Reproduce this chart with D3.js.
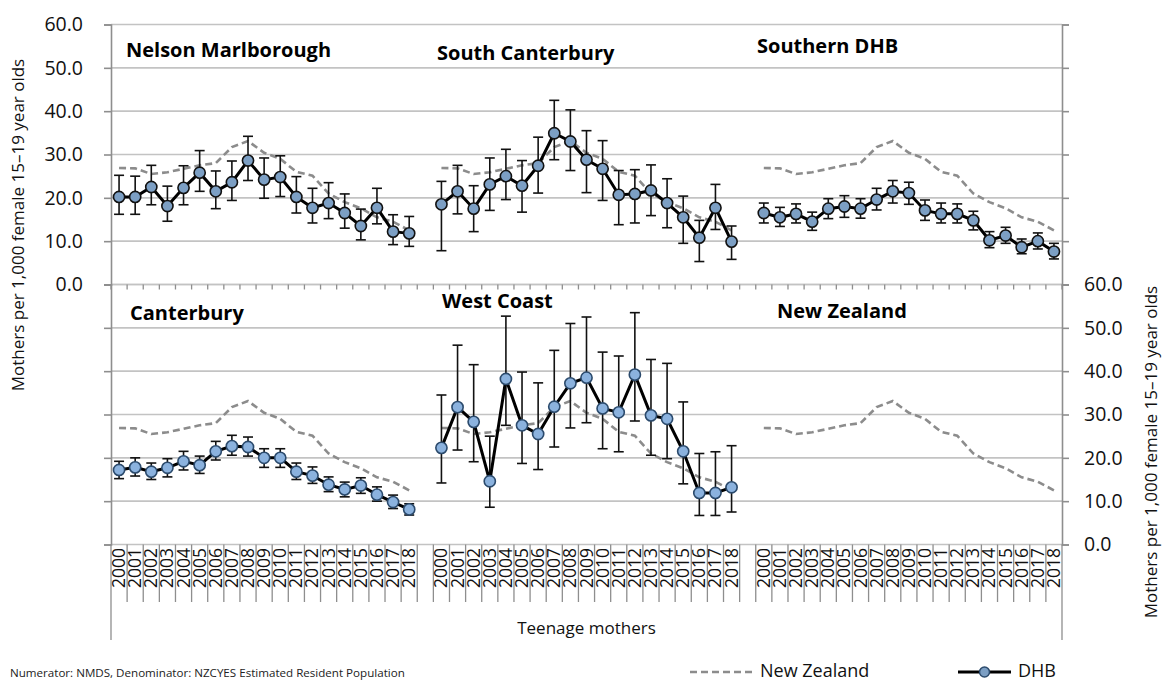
<!DOCTYPE html>
<html>
<head>
<meta charset="utf-8">
<script src="https://cdn.jsdelivr.net/npm/d3@7"></script>
<style>
  html, body { margin: 0; padding: 0; background: #fff; }
  svg { display: block; font-family: "Open Sans", "Noto Sans", sans-serif; }
</style>
</head>
<body>
<svg id="chart" width="1163" height="682"></svg>
<script>
// Teenage mothers per 1,000 female 15–19 year olds, by DHB, 2000–2018
const years = d3.range(2000, 2019).map(String);
const yTicks = [0, 10, 20, 30, 40, 50, 60];

const newZealand = [26.9, 26.8, 25.5, 25.9, 26.7, 27.5, 28.0, 31.7, 33.1, 30.4, 29.0, 26.0, 25.1, 21.0, 19.0, 17.6, 15.5, 14.5, 12.5];

const nelsonRate  = [20.2, 20.2, 22.5, 18.1, 22.3, 25.8, 21.5, 23.6, 28.6, 24.2, 24.8, 20.2, 17.7, 18.8, 16.5, 13.5, 17.7, 12.2, 11.8];
const nelsonUpper = [25.2, 25.0, 27.5, 22.7, 27.4, 30.9, 26.2, 28.5, 34.2, 29.2, 29.7, 24.9, 22.2, 23.5, 20.9, 17.4, 22.2, 16.1, 15.7];
const nelsonLower = [16.2, 16.2, 18.4, 14.6, 18.4, 21.5, 17.5, 19.4, 24.0, 19.9, 20.3, 16.5, 14.2, 15.2, 13.0, 10.3, 14.0, 9.2, 8.8];

const southCantRate  = [18.5, 21.5, 17.5, 23.1, 25.0, 22.8, 27.4, 34.9, 33.0, 28.8, 26.7, 20.7, 20.9, 21.7, 18.8, 15.5, 10.8, 17.7, 9.9];
const southCantUpper = [23.8, 27.5, 22.8, 29.2, 31.2, 28.6, 34.0, 42.5, 40.3, 35.5, 33.2, 26.3, 26.5, 27.6, 24.4, 20.4, 14.8, 23.1, 13.5];
const southCantLower = [7.8, 16.3, 12.2, 17.1, 19.6, 16.7, 21.1, 28.8, 26.3, 21.2, 19.4, 13.8, 14.2, 15.9, 13.1, 9.5, 5.3, 12.7, 5.8];

const southernRate  = [16.5, 15.5, 16.3, 14.5, 17.5, 18.0, 17.5, 19.6, 21.5, 21.1, 17.1, 16.3, 16.3, 14.8, 10.2, 11.3, 8.6, 10.0, 7.6];
const southernUpper = [18.8, 17.8, 18.6, 16.7, 19.8, 20.5, 19.8, 22.2, 24.0, 23.6, 19.5, 18.8, 18.6, 16.9, 12.2, 13.2, 10.5, 11.9, 9.5];
const southernLower = [14.2, 13.4, 14.2, 12.5, 15.2, 15.5, 15.3, 17.2, 18.8, 18.5, 14.8, 14.2, 14.2, 12.6, 8.5, 9.5, 7.1, 8.2, 5.9];

const canterburyRate  = [17.2, 17.8, 16.8, 17.7, 19.2, 18.3, 21.5, 22.7, 22.5, 20.0, 20.0, 16.8, 15.9, 13.8, 12.7, 13.6, 11.5, 9.8, 8.1];
const canterburyUpper = [19.2, 20.0, 18.8, 19.8, 21.5, 20.4, 23.8, 25.2, 24.8, 22.1, 22.1, 18.8, 17.9, 15.6, 14.4, 15.4, 13.3, 11.4, 9.4];
const canterburyLower = [15.2, 15.8, 15.0, 15.6, 17.2, 16.4, 19.5, 20.6, 20.4, 17.8, 17.8, 15.0, 14.1, 12.2, 11.0, 11.8, 10.0, 8.3, 6.8];

const westCoastRate  = [22.3, 31.7, 28.3, 14.6, 38.2, 27.5, 25.5, 31.8, 37.2, 38.5, 31.4, 30.5, 39.2, 29.8, 29.0, 21.5, 11.9, 11.9, 13.2];
const westCoastUpper = [34.5, 46.0, 41.5, 25.0, 52.7, 39.8, 37.3, 44.8, 51.0, 52.5, 44.4, 43.5, 53.5, 42.7, 41.8, 32.9, 21.0, 21.4, 22.8];
const westCoastLower = [14.2, 21.8, 19.1, 8.6, 27.5, 18.7, 17.3, 22.5, 26.9, 28.1, 22.1, 21.4, 28.5, 20.6, 19.8, 14.0, 6.7, 6.7, 7.5];

const panelNames = ["Nelson Marlborough", "South Canterbury", "Southern DHB", "Canterbury", "West Coast", "New Zealand"];

// row 0 = upper band, row 1 = lower band; col = block of 19 years
const panels = [
  { name: panelNames[0], row: 0, col: 0, rate: nelsonRate, upper: nelsonUpper, lower: nelsonLower, tx: 126, ty: 57 },
  { name: panelNames[1], row: 0, col: 1, rate: southCantRate, upper: southCantUpper, lower: southCantLower, tx: 437, ty: 60 },
  { name: panelNames[2], row: 0, col: 2, rate: southernRate, upper: southernUpper, lower: southernLower, tx: 757, ty: 53 },
  { name: panelNames[3], row: 1, col: 0, rate: canterburyRate, upper: canterburyUpper, lower: canterburyLower, tx: 130, ty: 320 },
  { name: panelNames[4], row: 1, col: 1, rate: westCoastRate, upper: westCoastUpper, lower: westCoastLower, tx: 442, ty: 308 },
  { name: panelNames[5], row: 1, col: 2, rate: null, upper: null, lower: null, tx: 777, ty: 318 }
];

const svg = d3.select("#chart");
const plotL = 111, plotR = 1062;
const nSlots = 59; // 3 blocks of 19 years separated by one empty slot

const x = d3.scaleBand().domain(d3.range(nSlots)).range([plotL, plotR]).padding(0);
const bw = x.bandwidth();
const slotOf = (col, i) => col * 20 + i;
const cx = (col, i) => x(slotOf(col, i)) + bw / 2;

const yTop = d3.scaleLinear().domain([0, 60]).range([284.5, 24.5]);
const yBot = d3.scaleLinear().domain([0, 60]).range([544.5, 284.5]);
const yFor = row => row === 0 ? yTop : yBot;

const gridColor = "#c3c3c3";
const axisColor = "#8e8e8e";

// gridlines
const grid = svg.append("g");
[yTop, yBot].forEach(y => {
  grid.selectAll(null).data(yTicks).enter().append("line")
    .attr("x1", plotL).attr("x2", plotR)
    .attr("y1", d => y(d)).attr("y2", d => y(d))
    .attr("stroke", gridColor).attr("stroke-width", 1.6);
});

// vertical axes with ticks on both bands
const leftAxisTop = d3.axisLeft(yTop).tickValues(yTicks).tickFormat(d3.format(".1f")).tickSize(7).tickPadding(21);
const rightAxisBot = d3.axisRight(yBot).tickValues(yTicks).tickFormat(d3.format(".1f")).tickSize(7).tickPadding(15);

function styleAxis(g) {
  g.select(".domain").attr("stroke", axisColor).attr("stroke-width", 1.6);
  g.selectAll(".tick line").attr("stroke", axisColor).attr("stroke-width", 1.6);
  g.selectAll(".tick text").attr("fill", "#111").style("font-size", "19.5px").style("font-family", "'Open Sans', sans-serif");
}

svg.append("g").attr("transform", `translate(${plotL},0)`).call(leftAxisTop).call(styleAxis);
svg.append("g").attr("transform", `translate(${plotL},0)`)
  .call(d3.axisLeft(yBot).tickValues(yTicks).tickFormat("").tickSize(7)).call(styleAxis);
svg.append("g").attr("transform", `translate(${plotR},0)`).call(rightAxisBot).call(styleAxis);
svg.append("g").attr("transform", `translate(${plotR},0)`)
  .call(d3.axisRight(yTop).tickValues(yTicks).tickFormat("").tickSize(7)).call(styleAxis);

// category boundaries
const bounds = d3.range(nSlots + 1).map(k => plotL + k * bw);
// small ticks under the upper band
svg.append("g").selectAll("line").data(bounds).enter().append("line")
  .attr("x1", d => d).attr("x2", d => d)
  .attr("y1", yTop(0)).attr("y2", yTop(0) + 5)
  .attr("stroke", axisColor).attr("stroke-width", 1.3);
// label dividers under the lower band
svg.append("g").selectAll("line").data(bounds).enter().append("line")
  .attr("x1", d => d).attr("x2", d => d)
  .attr("y1", yBot(0)).attr("y2", d => (d === bounds[0] || d === bounds[nSlots]) ? 640 : 602)
  .attr("stroke", axisColor).attr("stroke-width", 1.3);

// year labels
const yearLabels = svg.append("g");
[0, 1, 2].forEach(col => {
  yearLabels.selectAll(null).data(years).enter().append("text")
    .attr("transform", (d, i) => `translate(${cx(col, i) + 6},548) rotate(-90)`)
    .attr("text-anchor", "end")
    .style("font-size", "17.5px")
    .attr("fill", "#111")
    .text(d => d);
});

svg.append("text").attr("x", (plotL + plotR) / 2).attr("y", 634)
  .attr("text-anchor", "middle").style("font-size", "17px").attr("fill", "#111")
  .text("Teenage mothers");

// panels
panels.forEach(p => {
  const y = yFor(p.row);
  const g = svg.append("g");

  const nzLine = d3.line().x((d, i) => cx(p.col, i)).y(d => y(d));
  g.append("path").datum(newZealand).attr("d", nzLine)
    .attr("fill", "none").attr("stroke", "#8c8c8c").attr("stroke-width", 2.6)
    .attr("stroke-dasharray", "7,4");

  if (p.rate) {
    // error bars
    const eb = g.append("g").attr("stroke", "#111").attr("stroke-width", 1.6);
    eb.selectAll("line.v").data(p.rate).enter().append("line")
      .attr("x1", (d, i) => cx(p.col, i)).attr("x2", (d, i) => cx(p.col, i))
      .attr("y1", (d, i) => y(p.upper[i])).attr("y2", (d, i) => y(p.lower[i]));
    eb.selectAll("line.u").data(p.upper).enter().append("line")
      .attr("x1", (d, i) => cx(p.col, i) - 5).attr("x2", (d, i) => cx(p.col, i) + 5)
      .attr("y1", d => y(d)).attr("y2", d => y(d));
    eb.selectAll("line.l").data(p.lower).enter().append("line")
      .attr("x1", (d, i) => cx(p.col, i) - 5).attr("x2", (d, i) => cx(p.col, i) + 5)
      .attr("y1", d => y(d)).attr("y2", d => y(d));

    const line = d3.line().x((d, i) => cx(p.col, i)).y(d => y(d));
    g.append("path").datum(p.rate).attr("d", line)
      .attr("fill", "none").attr("stroke", "#000").attr("stroke-width", 3);

    const top = p.row === 0;
    g.selectAll("circle").data(p.rate).enter().append("circle")
      .attr("cx", (d, i) => cx(p.col, i)).attr("cy", d => y(d)).attr("r", 5.6)
      .attr("fill", top ? "#7c9fc4" : "#8bb2de")
      .attr("stroke", top ? "#111" : "#2b4a6c").attr("stroke-width", 1.6);
  }

  g.append("text").attr("x", p.tx).attr("y", p.ty)
    .style("font-size", "20px").style("font-weight", "700").attr("fill", "#000")
    .text(p.name);
});

// axis titles
const yTitle = "Mothers per 1,000 female 15–19 year olds";
svg.append("text").attr("transform", "translate(24,225) rotate(-90)")
  .attr("text-anchor", "middle").style("font-size", "17px").attr("fill", "#111").text(yTitle);
svg.append("text").attr("transform", "translate(1157,452) rotate(-90)")
  .attr("text-anchor", "middle").style("font-size", "17px").attr("fill", "#111").text(yTitle);

// source note
svg.append("text").attr("x", 10).attr("y", 677)
  .style("font-size", "11.6px").attr("fill", "#222")
  .text("Numerator: NMDS, Denominator: NZCYES Estimated Resident Population");

// legend
const lg = svg.append("g");
lg.append("line").attr("x1", 690).attr("x2", 752).attr("y1", 672).attr("y2", 672)
  .attr("stroke", "#8c8c8c").attr("stroke-width", 2.6).attr("stroke-dasharray", "7,4");
lg.append("text").attr("x", 760).attr("y", 672).attr("dominant-baseline", "middle")
  .style("font-size", "18px").attr("fill", "#111").text(panelNames[5]);
lg.append("line").attr("x1", 958).attr("x2", 1011).attr("y1", 672).attr("y2", 672)
  .attr("stroke", "#000").attr("stroke-width", 3);
lg.append("circle").attr("cx", 984.5).attr("cy", 672).attr("r", 5)
  .attr("fill", "#7c9fc4").attr("stroke", "#2b4a6c").attr("stroke-width", 1.5);
lg.append("text").attr("x", 1018).attr("y", 672).attr("dominant-baseline", "middle")
  .style("font-size", "18px").attr("fill", "#111").text("DHB");
</script>
</body>
</html>
